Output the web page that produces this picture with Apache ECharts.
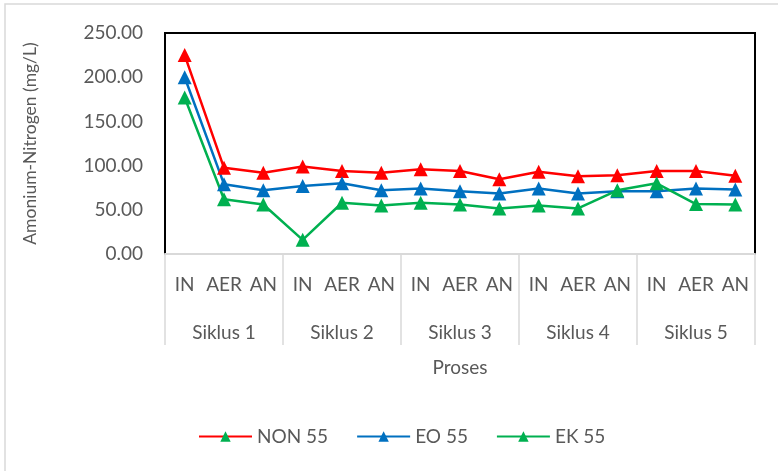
<!DOCTYPE html>
<html>
<head>
<meta charset="utf-8">
<script src="https://cdn.jsdelivr.net/npm/echarts@6/dist/echarts.min.js"></script>
<style>
  html, body { margin: 0; padding: 0; background: #fff; }
  #chart { width: 778px; height: 471px; }
</style>
</head>
<body>
<div id="chart"></div>
<script>
// Process stages within each cycle, and the cycle groups
const stages = ['IN', 'AER', 'AN', 'IN', 'AER', 'AN', 'IN', 'AER', 'AN', 'IN', 'AER', 'AN', 'IN', 'AER', 'AN'];
const cycles = ['Siklus 1', 'Siklus 2', 'Siklus 3', 'Siklus 4', 'Siklus 5'];

// Ammonium-nitrogen concentration (mg/L)
const non55 = [225, 97.5, 92, 99, 94, 92, 96, 94, 84.5, 93, 88, 89, 94, 94, 88.5];
const eo55  = [200, 79, 72, 77, 80, 72, 74, 71, 68.5, 74, 68.5, 71, 71, 74, 73];
const ek55  = [177, 62, 56, 16, 58, 55, 58, 56, 51.5, 55, 51.5, 72, 80, 56.5, 56];

const yTicks = { min: 0, max: 250, interval: 50 };

const font = 'Lato, "Open Sans", sans-serif';
const textColor = '#595959';
const C_RED = '#ff0000', C_BLUE = '#0070c0', C_GREEN = '#00b050';

const chart = echarts.init(document.getElementById('chart'), null, { renderer: 'canvas' });

function lineSeries(name, data, color) {
  return {
    name, type: 'line', data,
    xAxisIndex: 0, yAxisIndex: 0,
    symbol: 'triangle', symbolSize: 14,
    lineStyle: { color, width: 2.5 },
    itemStyle: { color },
    emphasis: { disabled: true },
    animation: false
  };
}

chart.setOption({
  animation: false,
  graphic: [{
    type: 'rect', silent: true, z: -1,
    shape: { x: 5, y: 4, width: 900, height: 600 },
    style: { fill: '#fff', stroke: '#d9d9d9', lineWidth: 1.5 }
  }],
  grid: {
    left: 165, right: 23, top: 33, bottom: 217,
    show: true, borderColor: '#000', borderWidth: 2, backgroundColor: 'transparent'
  },
  legend: {
    bottom: 20, left: 193,
    itemWidth: 53, itemHeight: 13, itemGap: 28,
    textStyle: { fontFamily: font, fontSize: 19, color: textColor },
    data: [
      { name: 'NON 55', itemStyle: { color: C_GREEN } },
      'EO 55', 'EK 55'
    ]
  },
  xAxis: [{
    type: 'category', data: stages, position: 'bottom',
    boundaryGap: true,
    axisLine: { lineStyle: { color: '#d9d9d9', width: 2 } },
    axisTick: { show: false },
    axisLabel: { interval: 0, margin: 21, fontFamily: font, fontSize: 19, color: textColor },
    z: 5
  }, {
    type: 'category', data: cycles, position: 'bottom',
    boundaryGap: true,
    axisLine: { show: false },
    axisTick: { show: true, interval: 0, length: 91, lineStyle: { color: '#d9d9d9', width: 1.5 } },
    axisLabel: { interval: 0, margin: 69, fontFamily: font, fontSize: 19, color: textColor },
    name: 'Proses', nameLocation: 'middle', nameGap: 104,
    nameTextStyle: { fontFamily: font, fontSize: 19, color: textColor }
  }],
  yAxis: [{
    type: 'value', min: yTicks.min, max: yTicks.max, interval: yTicks.interval,
    axisLine: { show: false }, axisTick: { show: false }, splitLine: { show: false },
    axisLabel: {
      fontFamily: font, fontSize: 19, color: textColor, margin: 22,
      formatter: v => v.toFixed(2)
    },
    name: 'Amonium-Nitrogen (mg/L)', nameLocation: 'middle', nameGap: 126, nameRotate: 90,
    nameTextStyle: { fontFamily: font, fontSize: 17.5, color: textColor }
  }],
  series: [
    lineSeries('NON 55', non55, C_RED),
    lineSeries('EO 55', eo55, C_BLUE),
    lineSeries('EK 55', ek55, C_GREEN)
  ]
});
</script>
</body>
</html>
